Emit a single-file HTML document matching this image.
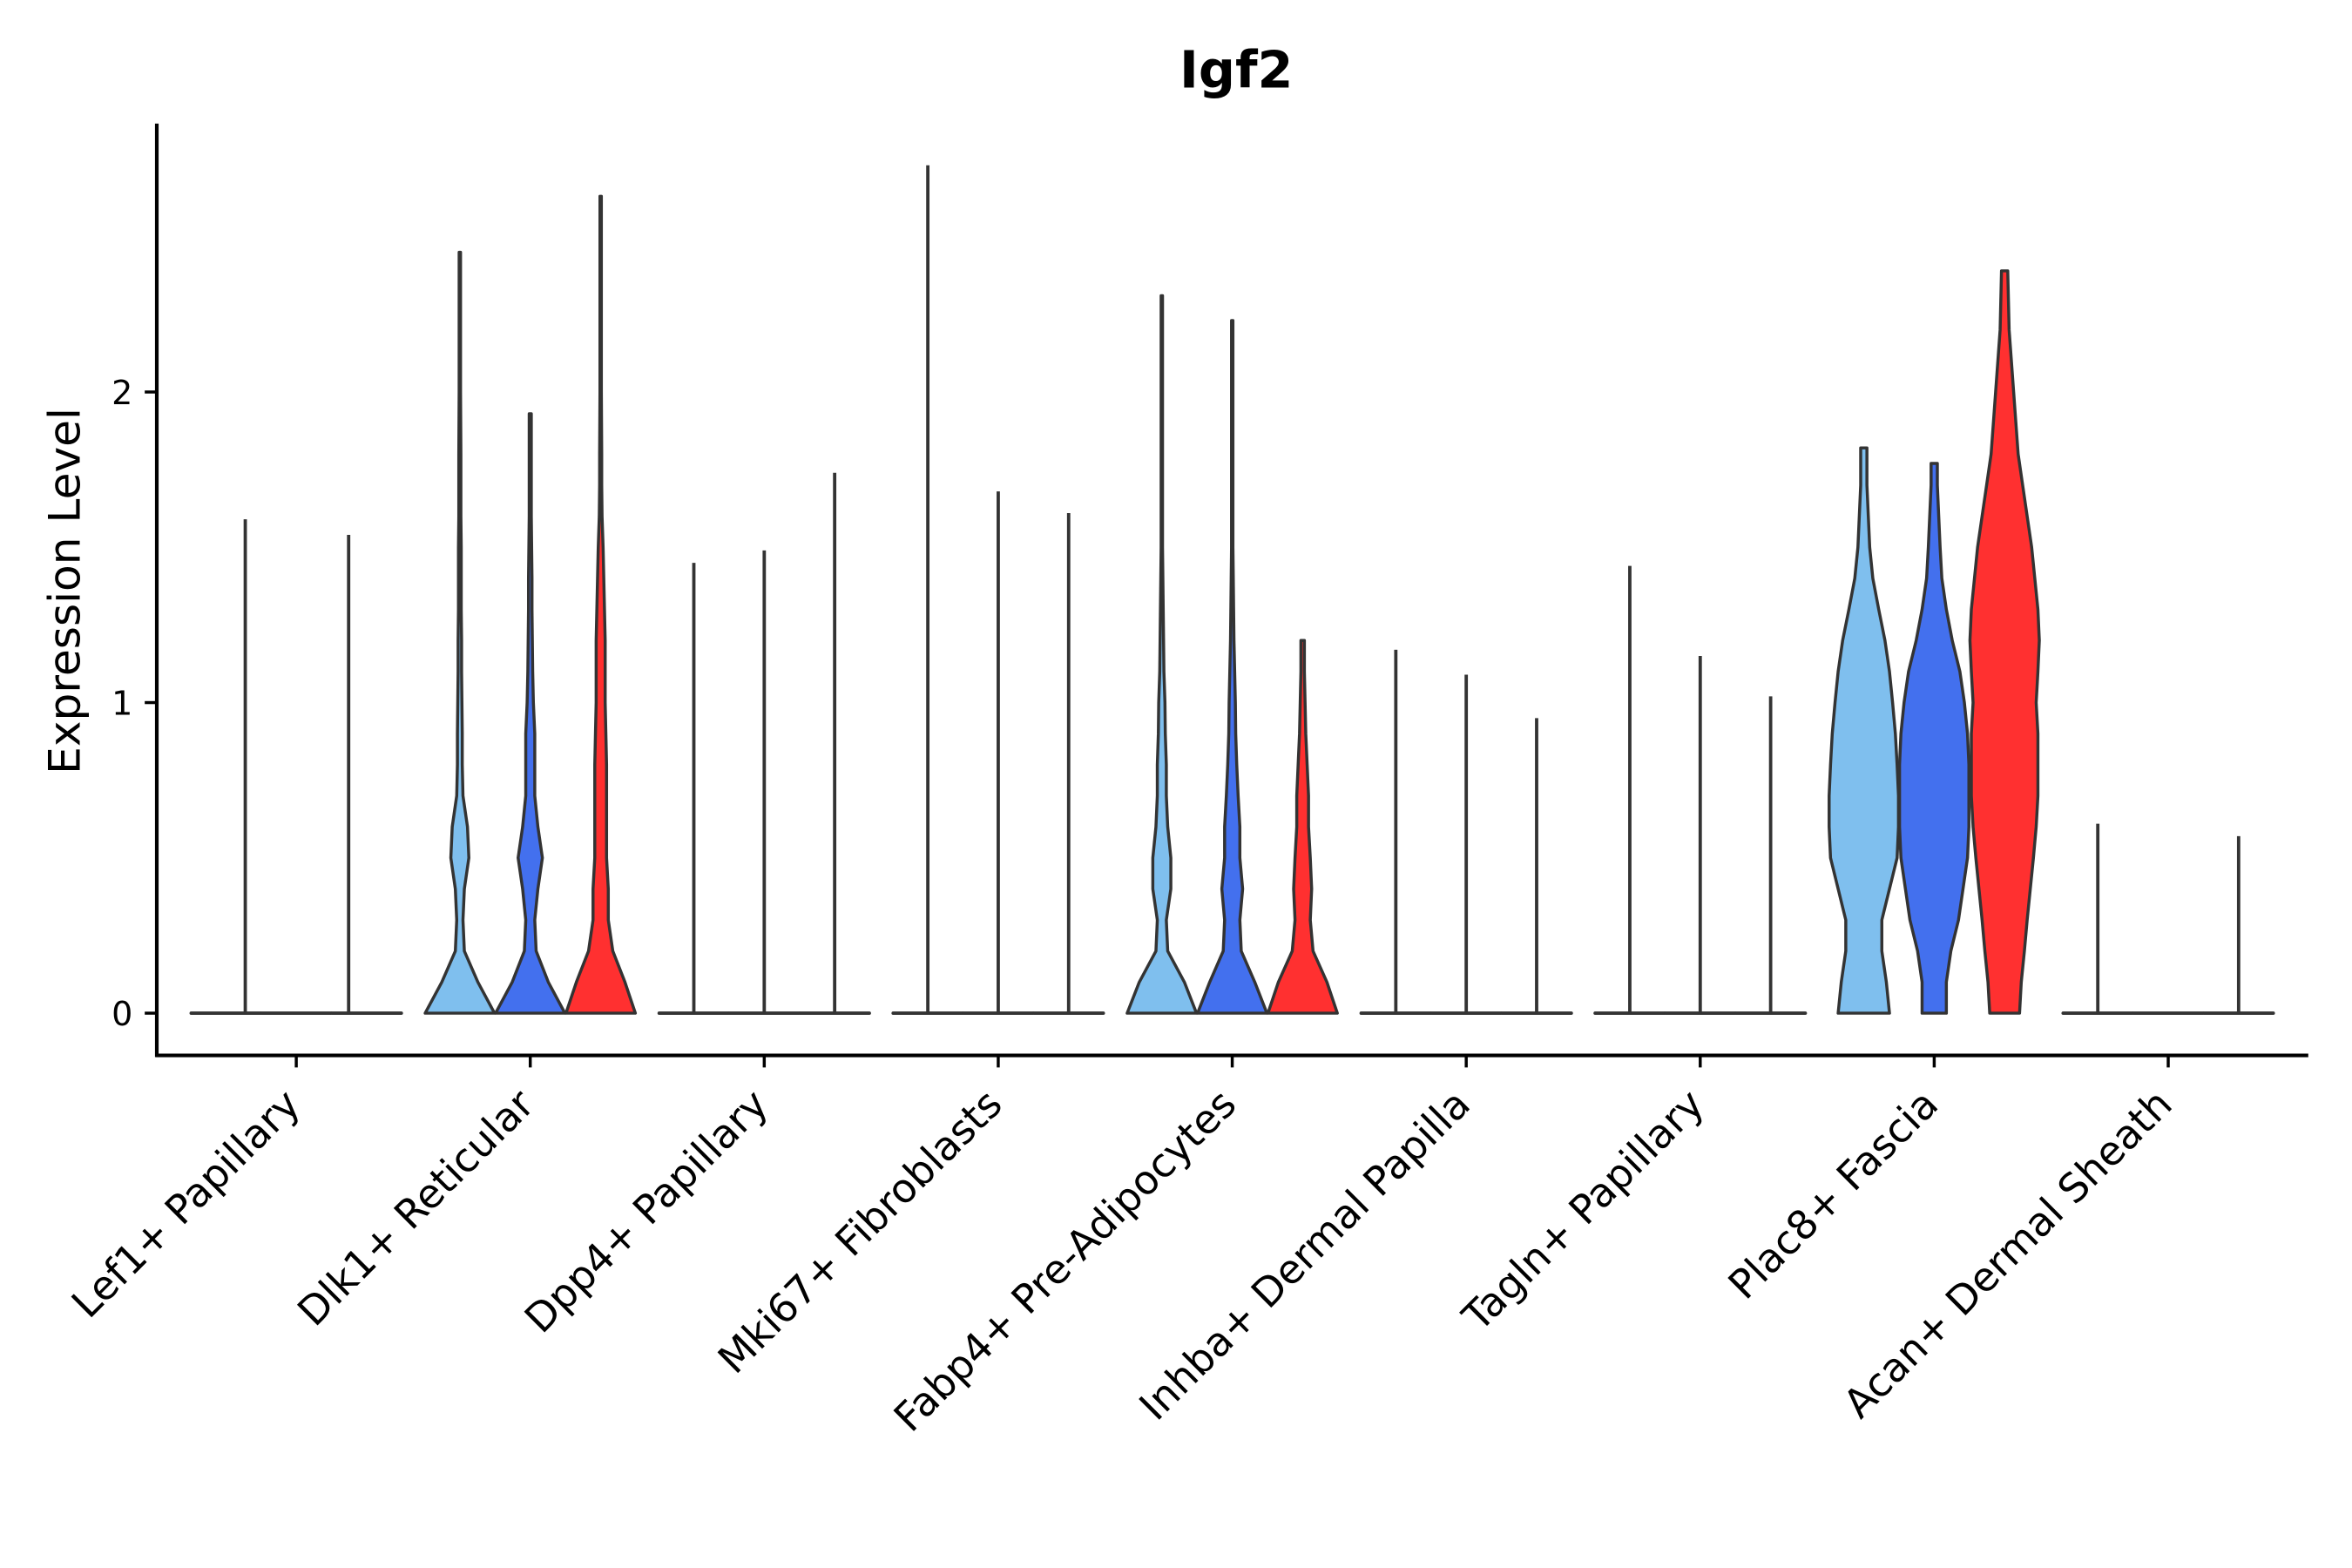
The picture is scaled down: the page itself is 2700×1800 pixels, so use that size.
<!DOCTYPE html>
<html><head><meta charset="utf-8"><style>
html,body{margin:0;padding:0;background:#fff;}
svg{display:block;font-family:"DejaVu Sans","Liberation Sans",sans-serif;}
</style></head><body>
<svg id="chart" width="2700" height="1800" viewBox="0 0 1560 1040" xmlns="http://www.w3.org/2000/svg">
<rect width="1560" height="1040" fill="#fff"/>
<text x="820" y="58" text-anchor="middle" font-size="34" font-weight="bold">Igf2</text>
<text transform="translate(53,392) rotate(-90)" text-anchor="middle" font-size="29">Expression Level</text>
<g id="plot"></g>
</svg>
<script>
const categories = ["Lef1+ Papillary","Dlk1+ Reticular","Dpp4+ Papillary","Mki67+ Fibroblasts","Fabp4+ Pre-Adipocytes","Inhba+ Dermal Papilla","Tagln+ Papillary","Plac8+ Fascia","Acan+ Dermal Sheath"];
const groupColors = ["#7FBFEE","#4370EE","#FF3030"];
// max expression per category per group (null = no spike)
const maxValues = [
 [1.59,null,1.54],[2.45,1.93,2.63],[1.45,1.49,1.74],[2.73,1.68,1.61],[2.31,2.23,1.20],
 [1.17,1.09,0.95],[1.44,1.15,1.02],[1.82,1.77,2.39],[0.61,null,0.57]
];
const levels = [0,0.1,0.2,0.3,0.4,0.5,0.6,0.7,0.8,0.9,1.0,1.1,1.2,1.3,1.4,1.5,1.6,1.7,1.8,2.0,2.2,2.4];
// relative half-widths (0..1) at each level; only for violins with visible density
const densities = {
 "1-0":[1,0.52,0.13,0.09,0.13,0.26,0.22,0.09,0.07,0.07,0.06,0.05,0.05,0.04,0.04,0.04,0.03,0.03,0.03,0.02,0.02,0.02],
 "1-1":[1,0.52,0.17,0.13,0.22,0.35,0.22,0.13,0.13,0.13,0.09,0.07,0.06,0.05,0.05,0.04,0.03,0.03,0.03,0.02,0.02,0.02],
 "1-2":[1,0.7,0.35,0.22,0.22,0.17,0.17,0.17,0.17,0.15,0.13,0.13,0.13,0.11,0.09,0.07,0.04,0.03,0.03,0.02,0.02,0.02],
 "4-0":[1,0.65,0.17,0.13,0.26,0.26,0.17,0.13,0.13,0.1,0.09,0.06,0.05,0.04,0.03,0.02,0.02,0.02,0.02,0.02,0.02,0.02],
 "4-1":[1,0.65,0.26,0.22,0.3,0.22,0.22,0.17,0.13,0.1,0.09,0.07,0.05,0.04,0.03,0.02,0.02,0.02,0.02,0.02,0.02,0.02],
 "4-2":[1,0.7,0.3,0.22,0.26,0.22,0.17,0.17,0.13,0.09,0.07,0.05,0.04,0.02,0.02,0.02,0.02,0.02,0.02,0.02,0.02,0.02],
 "7-0":[0.74,0.65,0.52,0.52,0.74,0.96,1,1,0.96,0.91,0.83,0.74,0.61,0.43,0.26,0.17,0.13,0.09,0.09,0.09,0.09,0.09],
 "7-1":[0.35,0.35,0.48,0.7,0.83,0.96,1,1,1,0.96,0.87,0.74,0.52,0.35,0.22,0.17,0.13,0.09,0.09,0.09,0.09,0.09],
 "7-2":[0.43,0.48,0.57,0.65,0.74,0.83,0.91,0.96,0.96,0.96,0.91,0.96,1,0.96,0.87,0.78,0.65,0.52,0.39,0.26,0.13,0.04]
};
const yTicks = [0,1,2];
const NS="http://www.w3.org/2000/svg";
const X0=196.5, STEP=155.2, GOFF=46.7, HW=23;
// layout: spike shift (fraction of group width) for the Lef1 group only
const spikeShift = (i,j) => (i===0 ? (j===0 ? 0.56 : -0.52) : 0);
const yScale = v => 672 - v*206;
const xCat = i => X0 + i*STEP;
const g = document.getElementById('plot');
function mk(tag, attrs){const e=document.createElementNS(NS,tag);for(const k in attrs)e.setAttribute(k,attrs[k]);g.appendChild(e);return e;}

categories.forEach((cat,i)=>{
  for(let j=0;j<3;j++){
    const cx = xCat(i)+(j-1)*GOFF;
    const key=i+"-"+j;
    const mx=maxValues[i][j];
    if(densities[key]){
      const d=densities[key];
      const pts=[];
      for(let k=0;k<levels.length;k++){ if(levels[k]>=mx) break; pts.push([levels[k],d[k]]); }
      const last=pts[pts.length-1];
      pts.push([mx, Math.min(last[1],0.09)]);
      let path="M"+(cx-pts[0][1]*HW)+","+yScale(0);
      pts.forEach(p=>{path+=" L"+(cx-p[1]*HW)+","+yScale(p[0]);});
      for(let k=pts.length-1;k>=0;k--){path+=" L"+(cx+pts[k][1]*HW)+","+yScale(pts[k][0]);}
      path+=" Z";
      const el=mk('path',{d:path,fill:groupColors[j],stroke:"#333",'stroke-width':2,'stroke-linejoin':'round'});
      
      
    } else {
      const el=mk('line',{x1:cx-HW,x2:cx+HW,y1:yScale(0),y2:yScale(0),stroke:"#333",'stroke-width':2.2,'stroke-linecap':'round'});
      
      
      if(mx!==null){
        const sx=cx+spikeShift(i,j)*HW;
        const s=mk('line',{x1:sx,x2:sx,y1:yScale(0),y2:yScale(mx),stroke:"#333",'stroke-width':2.2});
        
        
      }
    }
  }
  const t=mk('line',{x1:xCat(i),x2:xCat(i),y1:699,y2:708,stroke:"#000",'stroke-width':2});
  
  
  const lb=mk('text',{transform:"translate("+(xCat(i)+4)+",734) rotate(-45)",'text-anchor':'end','font-size':26.5,fill:'#000'});
  lb.textContent=cat;
  
  
});
yTicks.forEach(v=>{
  const t=mk('line',{x1:96,x2:104,y1:yScale(v),y2:yScale(v),stroke:"#000",'stroke-width':2});
  
  
  const lb=mk('text',{x:88,y:yScale(v)+8,'text-anchor':'end','font-size':22,fill:'#000'});
  lb.textContent=v;
  
  
});
const ax=mk('line',{x1:103,x2:1531,y1:700,y2:700,stroke:"#000",'stroke-width':2.4});


const ay=mk('line',{x1:104,x2:104,y1:82,y2:701,stroke:"#000",'stroke-width':2.4});


</script>
</body></html>
